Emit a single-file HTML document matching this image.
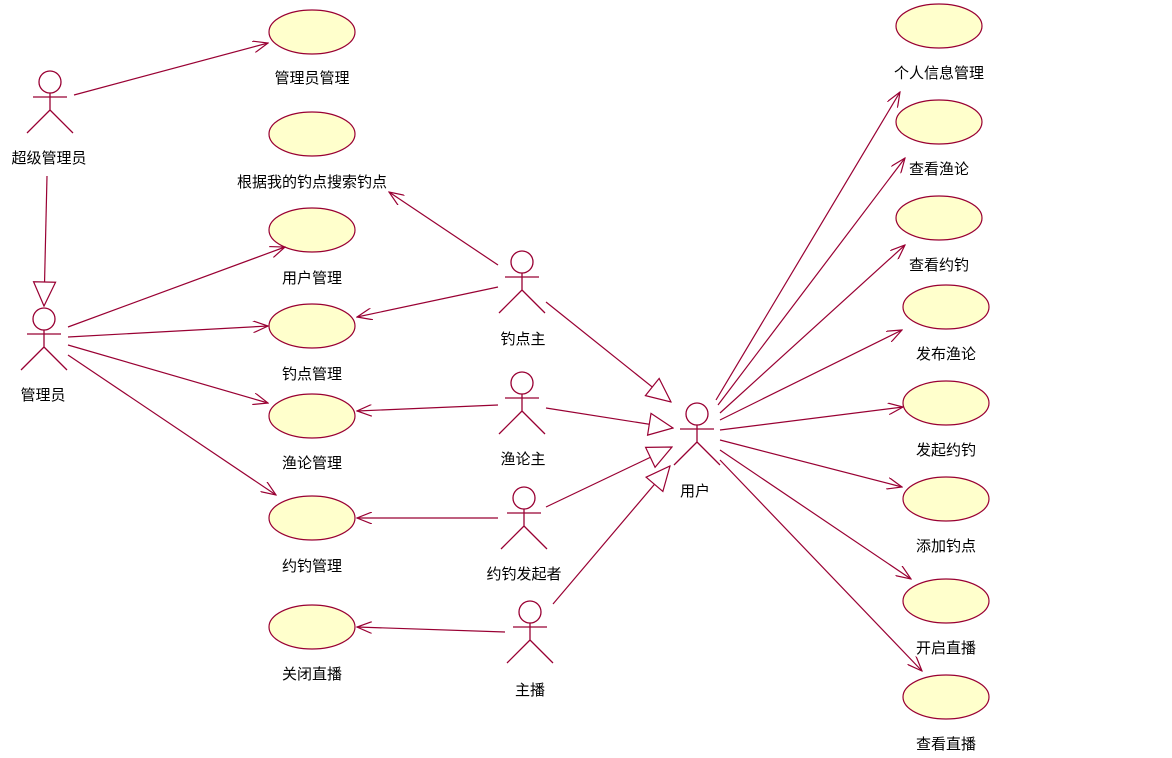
<!DOCTYPE html>
<html><head><meta charset="utf-8"><style>
body{margin:0;background:#fff}
svg{display:block}
text{font-family:"Liberation Sans","WenQuanYi Zen Hei","Noto Sans CJK SC",sans-serif;font-size:15px;fill:#000;text-anchor:middle}
</style></head><body>
<svg width="1172" height="758" viewBox="0 0 1172 758">
<defs>
<marker id="a" markerWidth="16" markerHeight="12" refX="15" refY="6" orient="auto" markerUnits="userSpaceOnUse"><path d="M0,0 L15,6 L0,12" fill="none" stroke="#990033" stroke-width="1.2"/></marker>
<marker id="g" markerWidth="26" markerHeight="24" refX="25" refY="12" orient="auto" markerUnits="userSpaceOnUse"><path d="M1,1 L25,12 L1,23 Z" fill="#fff" stroke="#990033" stroke-width="1.2"/></marker>
<g id="act" fill="none" stroke="#990033" stroke-width="1.3"><circle cx="0" cy="0" r="11"/><path d="M0,11 V28 M-17,15 H17 M0,28 L-23,51 M0,28 L23,51"/></g>
</defs>
<g fill="#ffffcc" stroke="#990033" stroke-width="1.2">
<ellipse cx="312" cy="32" rx="43" ry="22"/><ellipse cx="312" cy="134" rx="43" ry="22"/>
<ellipse cx="312" cy="230" rx="43" ry="22"/><ellipse cx="312" cy="326" rx="43" ry="22"/>
<ellipse cx="312" cy="416" rx="43" ry="22"/><ellipse cx="312" cy="518" rx="43" ry="22"/>
<ellipse cx="312" cy="627" rx="43" ry="22"/>
<ellipse cx="939" cy="26" rx="43" ry="22"/><ellipse cx="939" cy="122" rx="43" ry="22"/>
<ellipse cx="939" cy="218" rx="43" ry="22"/><ellipse cx="946" cy="307" rx="43" ry="22"/>
<ellipse cx="946" cy="403" rx="43" ry="22"/><ellipse cx="946" cy="499" rx="43" ry="22"/>
<ellipse cx="946" cy="601" rx="43" ry="22"/><ellipse cx="946" cy="697" rx="43" ry="22"/>
</g>
<use href="#act" x="50" y="82"/><use href="#act" x="44" y="319"/>
<use href="#act" x="522" y="262"/><use href="#act" x="522" y="383"/>
<use href="#act" x="524" y="498"/><use href="#act" x="530" y="612"/>
<use href="#act" x="697" y="414"/>
<g stroke="#990033" stroke-width="1.2" fill="none" marker-end="url(#a)">
<line x1="74" y1="95" x2="268" y2="43"/>
<line x1="68" y1="327" x2="285" y2="247"/>
<line x1="68" y1="337" x2="268" y2="326"/>
<line x1="68" y1="345" x2="268" y2="403"/>
<line x1="68" y1="355" x2="276" y2="495"/>
<line x1="498" y1="265" x2="389" y2="192"/>
<line x1="498" y1="287" x2="357" y2="317"/>
<line x1="498" y1="405" x2="357" y2="411"/>
<line x1="498" y1="518" x2="357" y2="518"/>
<line x1="505" y1="632" x2="357" y2="627"/>
<line x1="716" y1="400" x2="900" y2="92"/>
<line x1="718" y1="405" x2="905" y2="158"/>
<line x1="720" y1="413" x2="905" y2="245"/>
<line x1="720" y1="420" x2="902" y2="330"/>
<line x1="720" y1="430" x2="903" y2="407"/>
<line x1="720" y1="440" x2="902" y2="487"/>
<line x1="720" y1="450" x2="911" y2="579"/>
<line x1="720" y1="460" x2="922" y2="671"/>
</g>
<g stroke="#990033" stroke-width="1.2" fill="none" marker-end="url(#g)">
<line x1="47" y1="176" x2="44" y2="306"/>
<line x1="546" y1="302" x2="671" y2="402"/>
<line x1="546" y1="408" x2="673" y2="428"/>
<line x1="546" y1="507" x2="672" y2="447"/>
<line x1="553" y1="604" x2="670" y2="466"/>
</g>
<text x="49" y="163">超级管理员</text><text x="43" y="400">管理员</text>
<text x="523" y="344">钓点主</text><text x="523" y="464">渔论主</text>
<text x="524" y="579">约钓发起者</text><text x="530" y="695">主播</text>
<text x="695" y="496">用户</text>
<text x="312" y="83">管理员管理</text><text x="312" y="187">根据我的钓点搜索钓点</text>
<text x="312" y="283">用户管理</text><text x="312" y="379">钓点管理</text>
<text x="312" y="468">渔论管理</text><text x="312" y="571">约钓管理</text>
<text x="312" y="679">关闭直播</text>
<text x="939" y="78">个人信息管理</text><text x="939" y="174">查看渔论</text>
<text x="939" y="270">查看约钓</text><text x="946" y="359">发布渔论</text>
<text x="946" y="455">发起约钓</text><text x="946" y="551">添加钓点</text>
<text x="946" y="653">开启直播</text><text x="946" y="749">查看直播</text>
</svg>
</body></html>
